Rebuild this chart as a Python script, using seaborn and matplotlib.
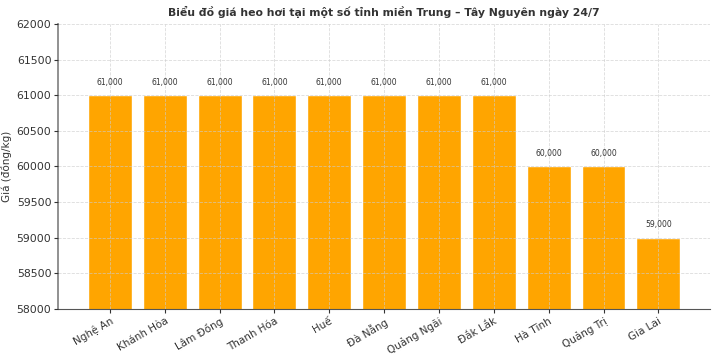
import matplotlib
matplotlib.use("Agg")
import matplotlib.pyplot as plt
import seaborn as sns
import pandas as pd

provinces = ["Nghệ An", "Khánh Hòa", "Lâm Đồng", "Thanh Hóa", "Huế", "Đà Nẵng",
             "Quảng Ngãi", "Đắk Lắk", "Hà Tĩnh", "Quảng Trị", "Gia Lai"]
prices = [61000, 61000, 61000, 61000, 61000, 61000, 61000, 61000, 60000, 60000, 59000]

df = pd.DataFrame({"province": provinces, "price": prices})

sns.set_style("white")
plt.rcParams['font.family'] = ['DejaVu Sans']

fig = plt.figure(figsize=(7.2, 3.6), dpi=100)
ax = fig.add_axes([0.081, 0.142, 0.905, 0.791])

sns.barplot(data=df, x="province", y="price", color="#FFA500", saturation=1,
            width=0.8, ax=ax, zorder=2)

ax.set_xlim(-0.94, len(provinces) - 1 + 0.94)
ax.set_ylim(58000, 62000)
ax.set_yticks(range(58000, 62001, 500))
ax.grid(True, linestyle="--", color="#cccccc", linewidth=0.6, alpha=0.7, zorder=3)
ax.set_axisbelow(False)

for i, v in enumerate(prices):
    ax.text(i, v + 120, f"{v:,}", ha="center", va="bottom", fontsize=5.5, color="#333333")

ax.set_title("Biểu đồ giá heo hơi tại một số tỉnh miền Trung – Tây Nguyên ngày 24/7",
             fontsize=7.8, fontweight="bold", color="#333333", pad=6)
ax.set_xlabel("")
ax.set_ylabel("Giá (đồng/kg)", fontsize=7.5, color="#333333", labelpad=3)
ax.tick_params(axis="y", labelsize=7.8, colors="#333333", length=3, pad=2, left=True)
ax.tick_params(axis="x", labelsize=7.5, colors="#333333", length=3, pad=2, bottom=True)
plt.setp(ax.get_xticklabels(), rotation=30, ha="right", rotation_mode="anchor")

for s in ["top", "right"]:
    ax.spines[s].set_visible(False)
ax.spines["bottom"].set_color("#555555")
ax.spines["left"].set_color("#888888")
ax.spines["left"].set_linewidth(1.3)

fig.savefig("out.png", dpi=100)
